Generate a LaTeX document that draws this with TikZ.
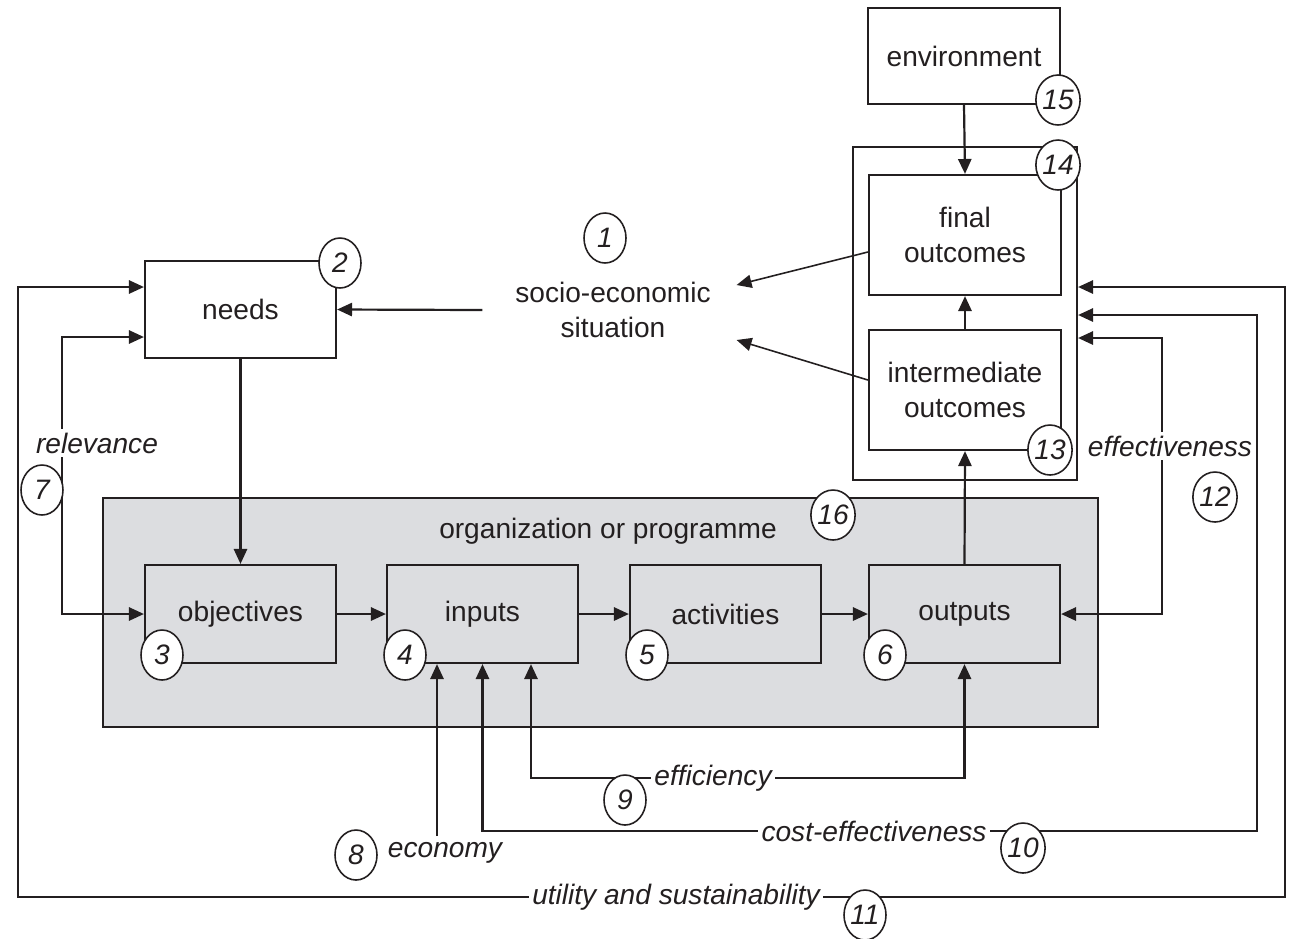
\documentclass[tikz,border=0pt]{standalone}
\usepackage{fontspec}
\setmainfont{Liberation Sans}
\usetikzlibrary{shapes.geometric, arrows.meta}
\definecolor{orggray}{RGB}{220,221,224}
\definecolor{inkgray}{RGB}{35,31,32}
\newcommand{\diagfont}{\fontsize{16}{19.5}\selectfont}
\tikzset{
	box/.style={draw, minimum width=3.82cm, minimum height=1.96cm, align=center},
	num/.style={draw, ellipse, fill=white, line width=0.9pt, minimum width=0.84cm, minimum height=1cm, inner sep=0pt, font=\diagfont\itshape},
	lbl/.style={fill=white, inner sep=2pt, font=\diagfont\itshape},
}
\begin{document}
\begin{tikzpicture}[x=0.02cm, y=-0.02cm, line width=1.25pt, font=\diagfont, color=inkgray, >={Triangle[length=8.5pt, width=7.5pt]}]
	\useasboundingbox (0,0) rectangle (1301,938);
	\node[draw, fill=orggray, minimum width=19.9cm, minimum height=4.58cm] (org) at (600.5,612.5) {};
	\node (orglabel) at (608,531) {organization or programme};
	\node[draw, minimum width=4.48cm, minimum height=6.66cm] (outer) at (965,313.5) {};
	\node[box, minimum width=3.84cm, minimum height=1.92cm] (env) at (964,56) {environment};
	\node[box, minimum width=3.84cm, minimum height=2.4cm] (final) at (965,235) {final\\outcomes};
	\node[box, minimum width=3.84cm, minimum height=2.4cm] (inter) at (965,390) {intermediate\\outcomes};
	\node[box, minimum height=1.94cm] (needs) at (240.5,309.5) {needs};
	\node[box] (objectives) at (240.5,614) {objectives};
	\node[box] (inputs) at (482.5,614) {inputs};
	\node[box] (activities) at (725.5,614) {activities};
	\node[box] (outputs) at (964.5,614) {outputs};
	\node[align=center] (socio) at (613,310) {socio-economic\\situation};

	\draw[->] (env.south) -- (final.north);
	\draw[->] (inter.north) -- (final.south);
	\draw[->] (outputs.north) -- (inter.south);
	\draw[->] (needs.south) -- (objectives.north);
	\draw[->] (objectives) -- (inputs);
	\draw[->] (inputs) -- (activities);
	\draw[->] (activities) -- (outputs);
	\draw[->] ([xshift=-0.52cm]socio.west) -- (needs.east);
	\draw[->, line width=0.9pt] ([yshift=-0.34cm]final.west) -- ([xshift=0.38cm,yshift=0.5cm]socio.east);
	\draw[->, line width=0.9pt] ([yshift=0.2cm]inter.west) -- ([xshift=0.38cm,yshift=-0.6cm]socio.east);

	\coordinate (c7) at (62,337);
	\draw[<->] (objectives.west) -| (c7) -- (needs.west |- c7);
	\coordinate (c11) at (18,287);
	\draw[<->] (needs.west |- c11) -| (18,897) -| (1285,287) -- (outer.east |- c11);
	\draw[<->] (inputs.south) |- (1257,831) |- (outer.east |- 0,315);
	\draw[<->] ([xshift=0.97cm]inputs.south) |- (700,778) -| (outputs.south);
	\coordinate (c8) at (437,836);
	\draw[->] (c8) -- (c8 |- inputs.south);
	\draw[<->] (outputs.east) -| (1162,338) -- (outer.east |- 0,338);

	\node[lbl] (relevance) at (97,443) {relevance};
	\node[lbl] (effect) at (1170,446) {effectiveness};
	\node[lbl] (effic) at (713,778) {efficiency};
	\node[lbl] (costeff) at (874,831) {cost-effectiveness};
	\node[lbl] (utility) at (676,897) {utility and sustainability};
	\node[lbl] (economy) at (445,853) {economy};

	\node[num] (n1) at (605,238) {1};
	\node[num] (n2) at (340,263) {2};
	\node[num] (n3) at (162,655) {3};
	\node[num] (n4) at (405,655) {4};
	\node[num] (n5) at (647,655) {5};
	\node[num] (n6) at (885,655) {6};
	\node[num] (n7) at (42,490) {7};
	\node[num] (n8) at (356,855) {8};
	\node[num] (n9) at (625,800) {9};
	\node[num] (n10) at (1023,848) {10};
	\node[num] (n11) at (865,915) {11};
	\node[num] (n12) at (1215,497) {12};
	\node[num] (n13) at (1050,450) {13};
	\node[num] (n14) at (1058,165) {14};
	\node[num] (n15) at (1058,100) {15};
	\node[num] (n16) at (833,515) {16};
\end{tikzpicture}
\end{document}
